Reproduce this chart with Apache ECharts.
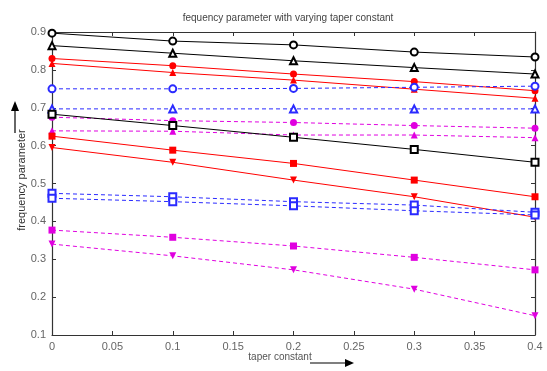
<!DOCTYPE html>
<html>
<head>
<meta charset="utf-8">
<script src="https://cdn.jsdelivr.net/npm/echarts@6/dist/echarts.min.js"></script>
<style>
  html, body { margin: 0; padding: 0; background: #fff; }
  #chart { width: 547px; height: 371px; }
</style>
</head>
<body>
<div id="chart"></div>
<script>
// taper constant values where the frequency parameter was evaluated
const taper = [0, 0.1, 0.2, 0.3, 0.4];

// frequency parameter for each case
const blackCircle   = [0.897, 0.876, 0.866, 0.847, 0.834];
const blackTriangle = [0.864, 0.844, 0.824, 0.806, 0.789];
const redCircle     = [0.830, 0.811, 0.789, 0.769, 0.745];
const redTriangle   = [0.817, 0.793, 0.773, 0.749, 0.725];
const blueCircle    = [0.750, 0.750, 0.751, 0.754, 0.757];
const blueTriangle  = [0.697, 0.697, 0.697, 0.697, 0.697];
const magCircle     = [0.675, 0.666, 0.661, 0.653, 0.646];
const magTriangle   = [0.639, 0.638, 0.628, 0.628, 0.621];
const blackSquare   = [0.683, 0.653, 0.622, 0.590, 0.556];
const redSquare     = [0.625, 0.588, 0.553, 0.509, 0.465];
const redDown       = [0.595, 0.556, 0.509, 0.465, 0.411];
const blueSquareA   = [0.474, 0.465, 0.452, 0.443, 0.424];
const blueSquareB   = [0.461, 0.452, 0.441, 0.428, 0.417];
const magSquare     = [0.377, 0.358, 0.335, 0.305, 0.272];
const magDown       = [0.340, 0.309, 0.272, 0.221, 0.151];

const BLACK = '#000000', RED = '#ff0000', BLUE = '#2a2aff', MAG = '#e000e0';
const DOWN = 'path://M0,0 L10,0 L5,9 Z';

function line(values, color, symbol, dashed) {
  return {
    type: 'line',
    data: taper.map((x, i) => [x, values[i]]),
    symbol: symbol,
    symbolSize: 7,
    clip: false,
    lineStyle: { color: color, width: 1, type: dashed ? [4, 3] : 'solid' },
    itemStyle: { color: color, borderWidth: 1.2 },
    emphasis: { disabled: true }
  };
}

// boxed frame: every axis keeps to its own edge with inward ticks
function frameAxis(extra) {
  return Object.assign({
    axisLine: { show: true, onZero: false, lineStyle: { color: '#333', width: 1.2 } },
    axisTick: { show: true, inside: true, length: 4, lineStyle: { color: '#333', width: 1 } },
    splitLine: { show: false }
  }, extra);
}
const labelStyle = { color: '#666', fontSize: 11, fontFamily: 'Liberation Sans', margin: 6 };

const chart = echarts.init(document.getElementById('chart'));
chart.setOption({
  animation: false,
  grid: { left: 52, right: 12, top: 32, bottom: 36 },
  title: {
    text: 'fequency parameter with varying taper constant',
    left: 283, top: 8, textAlign: 'center',
    textStyle: { fontSize: 10, fontWeight: 'normal', color: '#444', fontFamily: 'Liberation Sans' }
  },
  xAxis: [
    frameAxis({ type: 'value', min: 0, max: 0.4, interval: 0.05, position: 'bottom',
                axisLabel: labelStyle }),
    frameAxis({ type: 'value', min: 0, max: 0.4, interval: 0.05, position: 'top',
                axisLabel: { show: false } })
  ],
  yAxis: [
    frameAxis({ type: 'value', min: 0.1, max: 0.9, interval: 0.1, position: 'left',
                axisLabel: Object.assign({ formatter: v => v.toFixed(1) }, labelStyle) }),
    frameAxis({ type: 'value', min: 0.1, max: 0.9, interval: 0.1, position: 'right',
                axisLabel: { show: false } })
  ],
  series: [
    line(blackCircle, BLACK, 'emptyCircle', false),
    line(blackTriangle, BLACK, 'emptyTriangle', false),
    line(redCircle, RED, 'circle', false),
    line(redTriangle, RED, 'triangle', false),
    line(blueCircle, BLUE, 'emptyCircle', true),
    line(blueTriangle, BLUE, 'emptyTriangle', true),
    line(magCircle, MAG, 'circle', true),
    line(magTriangle, MAG, 'triangle', true),
    line(blackSquare, BLACK, 'emptyRect', false),
    line(redSquare, RED, 'rect', false),
    line(redDown, RED, DOWN, false),
    line(blueSquareA, BLUE, 'emptyRect', true),
    line(blueSquareB, BLUE, 'emptyRect', true),
    line(magSquare, MAG, 'rect', true),
    line(magDown, MAG, DOWN, true)
  ],
  graphic: [
    { type: 'text', x: 22, y: 180, rotation: Math.PI / 2,
      style: { text: 'frequency parameter', fill: '#333', fontSize: 11,
               fontFamily: 'Liberation Sans', align: 'center', verticalAlign: 'middle' } },
    { type: 'line', shape: { x1: 15, y1: 108, x2: 15, y2: 133 },
      style: { stroke: '#000', lineWidth: 1.2 } },
    { type: 'polygon', shape: { points: [[15, 101], [11, 111], [19, 111]] },
      style: { fill: '#000' } },
    { type: 'text', x: 280, y: 357,
      style: { text: 'taper constant', fill: '#555', fontSize: 10,
               fontFamily: 'Liberation Sans', align: 'center', verticalAlign: 'middle' } },
    { type: 'line', shape: { x1: 310, y1: 363, x2: 348, y2: 363 },
      style: { stroke: '#000', lineWidth: 1.2 } },
    { type: 'polygon', shape: { points: [[354, 363], [345, 359], [345, 367]] },
      style: { fill: '#000' } }
  ]
});
</script>
</body>
</html>
